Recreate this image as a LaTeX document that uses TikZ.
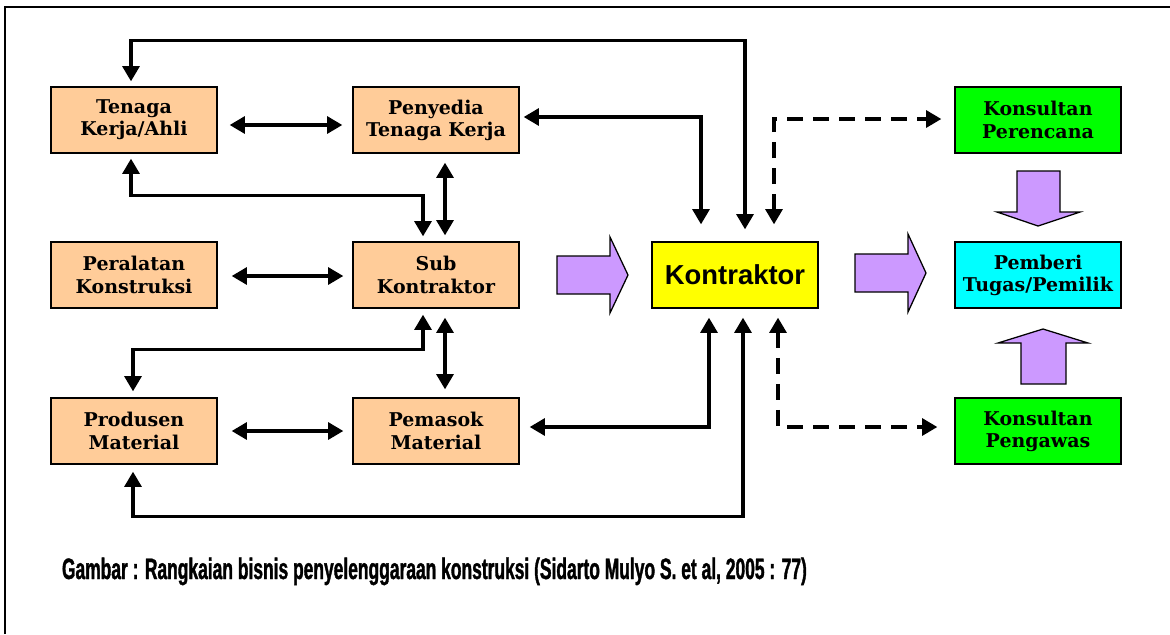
\documentclass[tikz,border=0pt]{standalone}
\usepackage{fontspec}
\setmainfont{DejaVu Serif}
\newfontfamily\sansfont{Liberation Sans}
\newfontfamily\narrowfont{Liberation Sans Bold}[FakeStretch=0.59, FakeBold=1.2]
\usetikzlibrary{arrows.meta, calc}
\definecolor{peach}{HTML}{FFCC99}
\definecolor{lilac}{HTML}{CC99FF}
\definecolor{limegreen}{HTML}{00FF00}
\definecolor{aqua}{HTML}{00FFFF}
\definecolor{lemon}{HTML}{FFFF00}
\tikzset{
  kotak/.style={rectangle, draw=black, line width=0.9pt, fill=peach, minimum width=4.15cm, minimum height=1.65cm, align=center, font=\bfseries\fontsize{13.5}{15.8}\selectfont},
  dbl/.style={{Triangle[length=0.38cm,width=0.42cm]}-{Triangle[length=0.38cm,width=0.42cm]}, line width=2.5pt},
  putus/.style={dbl, dash pattern=on 0.4cm off 0.25cm},
  blok/.style={draw=black, line width=0.9pt, fill=lilac},
}

\begin{document}
\begin{tikzpicture}[x=0.025cm, y=-0.025cm]
\useasboundingbox (0,0) rectangle (1170,634);
\draw[line width=1.8pt] (5,634) -- (5,7) -- (1170,7);

\node[kotak] (tenaga) at (134,120) {Tenaga\\Kerja/Ahli};
\node[kotak] (penyedia) at (436,120) {Penyedia\\Tenaga Kerja};
\node[kotak] (peralatan) at (134,275) {Peralatan\\Konstruksi};
\node[kotak] (sub) at (436,275) {Sub\\Kontraktor};
\node[kotak] (produsen) at (134,431) {Produsen\\Material};
\node[kotak] (pemasok) at (436,431) {Pemasok\\Material};
\node[kotak, fill=lemon, font=\sansfont\bfseries\fontsize{19.5}{22}\selectfont] (kontraktor) at (735,275) {Kontraktor};
\node[kotak, fill=aqua] (pemberi) at (1038,275) {Pemberi\\Tugas/Pemilik};
\node[kotak, fill=limegreen] (perencana) at (1038,120) {Konsultan\\Perencana};
\node[kotak, fill=limegreen] (pengawas) at (1038,431) {Konsultan\\Pengawas};

% antar kotak kiri
\draw[dbl] ($(tenaga.east)+(12,5)$) -- ($(penyedia.west)+(-10,5)$);
\draw[dbl] ($(peralatan.east)+(14,1)$) -- ($(sub.west)+(-9,1)$);
\draw[dbl] ($(produsen.east)+(14,0)$) -- ($(pemasok.west)+(-9,0)$);
\draw[dbl] ($(penyedia.south)+(9,9)$) -- ($(sub.north)+(9,-6)$);
\draw[dbl] ($(sub.south)+(9,9)$) -- ($(pemasok.north)+(9,-8)$);
\draw[dbl] ($(tenaga.south)+(-3,5)$) |- ($(sub.north)+(-13,-46)$) -- ($(sub.north)+(-13,-5)$);
\draw[dbl] ($(sub.south)+(-13,6)$) |- ($(produsen.north)+(-1,-48)$) -- ($(produsen.north)+(-1,-6)$);

% dari kontraktor
\draw[dbl] ($(kontraktor.north)+(10,-12)$) -- ++(0,-189) -| ($(tenaga.north)+(-3,-5)$);
\draw[dbl] ($(kontraktor.north)+(-34,-17)$) |- ($(penyedia.east)+(4,-3)$);
\draw[dbl] ($(kontraktor.south)+(-26,9)$) |- ($(pemasok.east)+(10,-4)$);
\draw[dbl] ($(kontraktor.south)+(8,9)$) -- ++(0,199) -| ($(produsen.south)+(-1,7)$);
\draw[putus] ($(kontraktor.north)+(39,-17)$) |- ($(perencana.west)+(-13,-1)$);
\draw[putus] ($(kontraktor.south)+(43,9)$) |- ($(pengawas.west)+(-17,-4)$);

% panah besar
\draw[blok] (557,256) -- (610,256) -- (610,237) -- (628,275) -- (610,313) -- (610,294) -- (557,294) -- cycle;
\draw[blok] (855,254) -- (908,254) -- (908,234) -- (926,273) -- (908,312) -- (908,292) -- (855,292) -- cycle;
\draw[blok] (1017,171) -- (1060,171) -- (1060,212) -- (1080,212) -- (1038,226) -- (997,212) -- (1017,212) -- cycle;
\draw[blok] (1021,384) -- (1021,343) -- (998,343) -- (1043,329) -- (1088,343) -- (1066,343) -- (1066,384) -- cycle;

\node[anchor=base west, font=\narrowfont\fontsize{21}{24}\selectfont] (judul) at (57,579) {Gambar : Rangkaian bisnis penyelenggaraan konstruksi (Sidarto Mulyo S. et al, 2005 : 77)};
\end{tikzpicture}
\end{document}
